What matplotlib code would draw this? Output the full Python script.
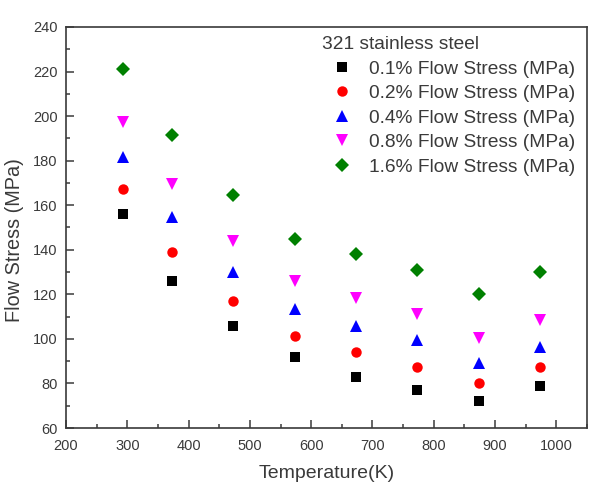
import matplotlib
matplotlib.use("Agg")
import matplotlib.pyplot as plt
from matplotlib.ticker import MultipleLocator

plt.rcParams["font.family"] = ["Liberation Sans", "DejaVu Sans"]

# temperatures (K) and flow stress readings (MPa)
temperature = [293, 373, 473, 573, 673, 773, 873, 973]
stress_01 = [156, 126, 106, 92, 83, 77, 72, 79]
stress_02 = [167.5, 139, 117, 101.5, 94, 87.5, 80, 87.5]
stress_04 = [181.5, 154.5, 130, 113.5, 106, 99.5, 89, 96.5]
stress_08 = [197.5, 169.5, 144, 126, 118.5, 111, 100.5, 108.5]
stress_16 = [221, 191.5, 164.5, 145, 138, 131, 120, 130]

series_labels = [
    "0.1% Flow Stress (MPa)",
    "0.2% Flow Stress (MPa)",
    "0.4% Flow Stress (MPa)",
    "0.8% Flow Stress (MPa)",
    "1.6% Flow Stress (MPa)",
]

TEXT = "#3a3a3a"
SPINE = "#3a3a3a"

fig = plt.figure(figsize=(5.89, 4.83), dpi=100)
ax = fig.add_axes([66 / 589, 1 - 428 / 483, (587 - 66) / 589, (428 - 27) / 483])

styles = [
    ("s", "black", 7),
    ("o", "red", 7.5),
    ("^", "blue", 8),
    ("v", "magenta", 8),
    ("D", "green", 7),
]
all_series = [stress_01, stress_02, stress_04, stress_08, stress_16]
for vals, lab, (mk, col, ms) in zip(all_series, series_labels, styles):
    ax.plot(temperature, vals, linestyle="none", marker=mk, color=col,
            markersize=ms, markeredgewidth=0, label=lab)

ax.set_xlim(200, 1050)
ax.set_ylim(60, 240)
ax.xaxis.set_major_locator(MultipleLocator(100))
ax.xaxis.set_minor_locator(MultipleLocator(50))
ax.yaxis.set_major_locator(MultipleLocator(20))
ax.yaxis.set_minor_locator(MultipleLocator(10))

ax.tick_params(which="both", direction="in", top=False, right=False,
               color=SPINE, width=1.1, labelcolor=TEXT, labelsize=10.5)
ax.tick_params(which="major", length=6)
ax.tick_params(which="minor", length=3)
ax.tick_params(axis="x", which="major", pad=8)
ax.tick_params(axis="y", which="major", pad=6)
for sp in ax.spines.values():
    sp.set_color(SPINE)
    sp.set_linewidth(1.2)

ax.set_xlabel("Temperature(K)", fontsize=14, color=TEXT, labelpad=8.5)
ax.set_ylabel("Flow Stress (MPa)", fontsize=14.3, color=TEXT)
# label sits a little below the axis centre in the original
ax.yaxis.set_label_coords(-0.08, 0.469)

leg = ax.legend(
    loc="upper left",
    bbox_to_anchor=(322 / 589, 1 - 36 / 483),
    bbox_transform=fig.transFigure,
    frameon=False,
    title="321 stainless steel",
    title_fontsize=13.8,
    fontsize=13.8,
    alignment="left",
    handlelength=2.1,
    handletextpad=0.35,
    labelspacing=0.37,
    borderpad=0,
    borderaxespad=0,
    numpoints=1,
)
for t in leg.get_texts():
    t.set_color(TEXT)
leg.get_title().set_color(TEXT)

fig.savefig("out.png", dpi=100)
